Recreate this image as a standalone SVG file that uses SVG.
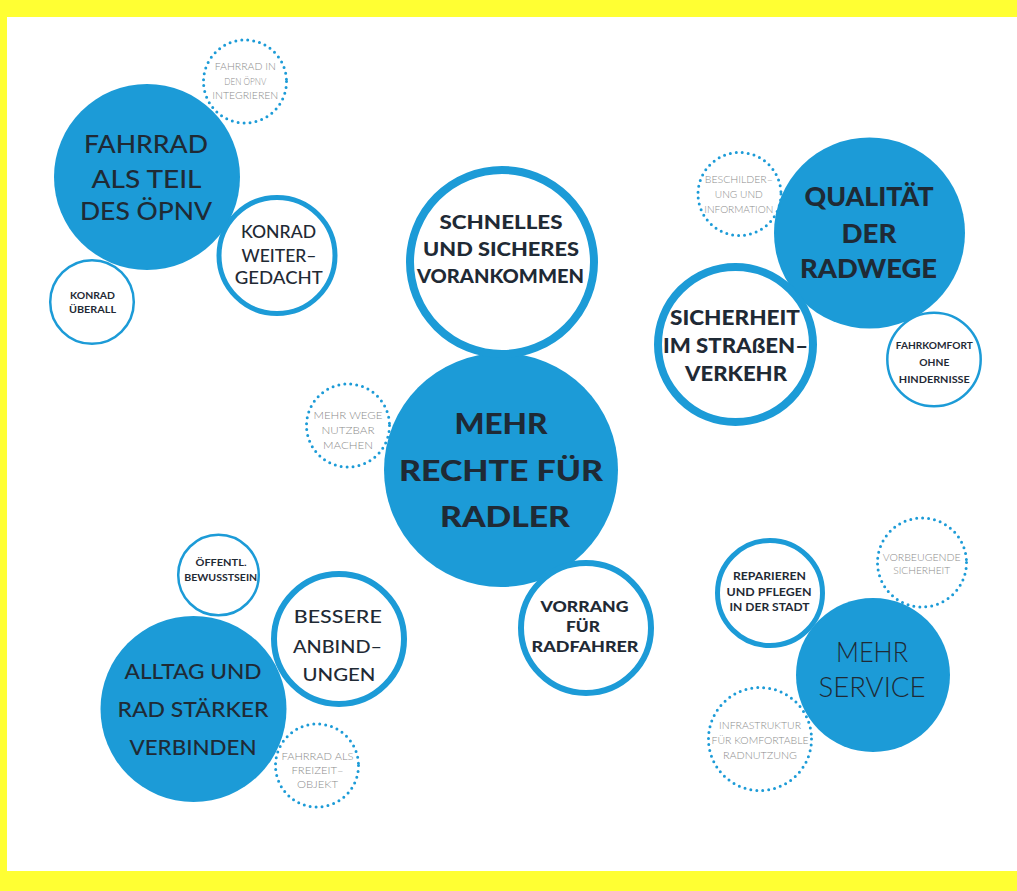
<svg xmlns="http://www.w3.org/2000/svg" width="1017" height="891" viewBox="0 0 1017 891">
<style>
.fill{fill:#1c9bd7}
.ring{fill:#fff;stroke:#1c9bd7}
.dot{fill:none;stroke:#1c9bd7;stroke-width:3;stroke-linecap:round;stroke-dasharray:0 6}
text{font-family:Lato,"Liberation Sans",sans-serif;text-anchor:middle;fill:#1f2a35}
.h{font-weight:900}
.m{font-weight:500}
.s{font-weight:700}
.l{font-weight:300}
.g{font-weight:300;fill:#8c8c8c}
</style>
<rect x="0" y="0" width="1017" height="891" fill="#ffff33"/>
<rect x="7" y="17" width="1010" height="854" fill="#fff"/>

<g id="fahrrad-oepnv">
<circle class="fill" cx="147" cy="177" r="93"/>
<text class="m" font-size="25"><tspan x="146" y="153" textLength="124" lengthAdjust="spacingAndGlyphs">FAHRRAD</tspan><tspan x="146.5" y="188" textLength="110" lengthAdjust="spacingAndGlyphs">ALS TEIL</tspan><tspan x="146" y="220" textLength="132" lengthAdjust="spacingAndGlyphs">DES ÖPNV</tspan></text>
</g>
<g id="oepnv-integrieren">
<circle class="dot" cx="245" cy="81.5" r="41.5"/>
<text class="g" font-size="9.5"><tspan x="245.3" y="70" textLength="61" lengthAdjust="spacingAndGlyphs">FAHRRAD IN</tspan><tspan x="245.3" y="85" textLength="42" lengthAdjust="spacingAndGlyphs">DEN ÖPNV</tspan><tspan x="245.3" y="99" textLength="66" lengthAdjust="spacingAndGlyphs">INTEGRIEREN</tspan></text>
</g>
<g id="konrad-weitergedacht">
<circle class="ring" stroke-width="5" cx="277" cy="255.5" r="58"/>
<text class="m" font-size="16.5"><tspan x="278.5" y="238" textLength="75" lengthAdjust="spacingAndGlyphs">KONRAD</tspan><tspan x="279" y="262" textLength="75" lengthAdjust="spacingAndGlyphs">WEITER–</tspan><tspan x="278.8" y="284" textLength="88" lengthAdjust="spacingAndGlyphs">GEDACHT</tspan></text>
</g>
<g id="konrad-ueberall">
<circle class="ring" stroke-width="2.5" cx="92" cy="302" r="41.8"/>
<text class="s" font-size="9.5"><tspan x="92.5" y="299" textLength="45" lengthAdjust="spacingAndGlyphs">KONRAD</tspan><tspan x="92.5" y="313" textLength="47" lengthAdjust="spacingAndGlyphs">ÜBERALL</tspan></text>
</g>

<g id="mehr-rechte">
<circle class="fill" cx="501" cy="470" r="117"/>
<text class="h" font-size="29"><tspan x="501" y="434" textLength="93" lengthAdjust="spacingAndGlyphs">MEHR</tspan><tspan x="501" y="481" textLength="204" lengthAdjust="spacingAndGlyphs">RECHTE FÜR</tspan><tspan x="505" y="527" textLength="130" lengthAdjust="spacingAndGlyphs">RADLER</tspan></text>
</g>
<g id="schnelles">
<circle class="ring" stroke-width="8" cx="502" cy="262" r="92"/>
<text class="h" font-size="19.5"><tspan x="501" y="229" textLength="123" lengthAdjust="spacingAndGlyphs">SCHNELLES</tspan><tspan x="501" y="256" textLength="156" lengthAdjust="spacingAndGlyphs">UND SICHERES</tspan><tspan x="500.5" y="283" textLength="167" lengthAdjust="spacingAndGlyphs">VORANKOMMEN</tspan></text>
</g>
<g id="vorrang">
<circle class="ring" stroke-width="6" cx="586" cy="628" r="65"/>
<text class="h" font-size="15.5"><tspan x="584.5" y="612" textLength="88" lengthAdjust="spacingAndGlyphs">VORRANG</tspan><tspan x="583" y="632" textLength="34" lengthAdjust="spacingAndGlyphs">FÜR</tspan><tspan x="585" y="652" textLength="107" lengthAdjust="spacingAndGlyphs">RADFAHRER</tspan></text>
</g>
<g id="mehr-wege">
<circle class="dot" cx="348" cy="425.5" r="41.5"/>
<text class="g" font-size="10.5"><tspan x="348" y="419" textLength="69" lengthAdjust="spacingAndGlyphs">MEHR WEGE</tspan><tspan x="348" y="434" textLength="53" lengthAdjust="spacingAndGlyphs">NUTZBAR</tspan><tspan x="348" y="449" textLength="50" lengthAdjust="spacingAndGlyphs">MACHEN</tspan></text>
</g>

<g id="qualitaet">
<circle class="fill" cx="869.5" cy="233" r="95.5"/>
<text class="h" font-size="26"><tspan x="869" y="206" textLength="129" lengthAdjust="spacingAndGlyphs">QUALITÄT</tspan><tspan x="869" y="243" textLength="55" lengthAdjust="spacingAndGlyphs">DER</tspan><tspan x="868.5" y="278" textLength="137" lengthAdjust="spacingAndGlyphs">RADWEGE</tspan></text>
</g>
<g id="sicherheit">
<circle class="ring" stroke-width="8" cx="735.5" cy="344.5" r="77.5"/>
<text class="h" font-size="21"><tspan x="735" y="325" textLength="130" lengthAdjust="spacingAndGlyphs">SICHERHEIT</tspan><tspan x="735.5" y="353" textLength="145" lengthAdjust="spacingAndGlyphs">IM STRAßEN–</tspan><tspan x="736" y="381" textLength="102" lengthAdjust="spacingAndGlyphs">VERKEHR</tspan></text>
</g>
<g id="beschilderung">
<circle class="dot" cx="739.5" cy="194" r="41.5"/>
<text class="g" font-size="9.5"><tspan x="738.8" y="183" textLength="68" lengthAdjust="spacingAndGlyphs">BESCHILDER–</tspan><tspan x="738.8" y="197.5" textLength="48" lengthAdjust="spacingAndGlyphs">UNG UND</tspan><tspan x="738.8" y="213" textLength="69" lengthAdjust="spacingAndGlyphs">INFORMATION</tspan></text>
</g>
<g id="fahrkomfort">
<circle class="ring" stroke-width="2.5" cx="934" cy="359.5" r="46.7"/>
<text class="s" font-size="9.5"><tspan x="934.3" y="349" textLength="77" lengthAdjust="spacingAndGlyphs">FAHRKOMFORT</tspan><tspan x="934.3" y="366" textLength="30" lengthAdjust="spacingAndGlyphs">OHNE</tspan><tspan x="934.3" y="383" textLength="71" lengthAdjust="spacingAndGlyphs">HINDERNISSE</tspan></text>
</g>

<g id="alltag">
<circle class="fill" cx="193.5" cy="709" r="93"/>
<text class="m" font-size="22"><tspan x="193" y="679" textLength="137" lengthAdjust="spacingAndGlyphs">ALLTAG UND</tspan><tspan x="193" y="717" textLength="151" lengthAdjust="spacingAndGlyphs">RAD STÄRKER</tspan><tspan x="193" y="755" textLength="127" lengthAdjust="spacingAndGlyphs">VERBINDEN</tspan></text>
</g>
<g id="bessere-anbindungen">
<circle class="ring" stroke-width="6" cx="339" cy="639" r="65"/>
<text class="m" font-size="18"><tspan x="337.8" y="623" textLength="88" lengthAdjust="spacingAndGlyphs">BESSERE</tspan><tspan x="337.5" y="653" textLength="89" lengthAdjust="spacingAndGlyphs">ANBIND–</tspan><tspan x="339" y="681" textLength="73" lengthAdjust="spacingAndGlyphs">UNGEN</tspan></text>
</g>
<g id="bewusstsein">
<circle class="ring" stroke-width="2.5" cx="218.5" cy="575" r="40.3"/>
<text class="s" font-size="9.5"><tspan x="221" y="566" textLength="51" lengthAdjust="spacingAndGlyphs">ÖFFENTL.</tspan><tspan x="220.7" y="581" textLength="73" lengthAdjust="spacingAndGlyphs">BEWUSSTSEIN</tspan></text>
</g>
<g id="freizeitobjekt">
<circle class="dot" cx="317" cy="765.5" r="41.5"/>
<text class="g" font-size="9.5"><tspan x="317.5" y="760" textLength="72" lengthAdjust="spacingAndGlyphs">FAHRRAD ALS</tspan><tspan x="317.5" y="774" textLength="52" lengthAdjust="spacingAndGlyphs">FREIZEIT–</tspan><tspan x="317.5" y="788" textLength="41" lengthAdjust="spacingAndGlyphs">OBJEKT</tspan></text>
</g>

<g id="mehr-service">
<circle class="fill" cx="873" cy="675" r="77"/>
<text class="l" font-size="28"><tspan x="872" y="662" textLength="72" lengthAdjust="spacingAndGlyphs">MEHR</tspan><tspan x="872" y="697" textLength="107" lengthAdjust="spacingAndGlyphs">SERVICE</tspan></text>
</g>
<g id="reparieren">
<circle class="ring" stroke-width="5" cx="770" cy="593" r="52.5"/>
<text class="s" font-size="12"><tspan x="769.5" y="580" textLength="73" lengthAdjust="spacingAndGlyphs">REPARIEREN</tspan><tspan x="769" y="595.5" textLength="85" lengthAdjust="spacingAndGlyphs">UND PFLEGEN</tspan><tspan x="769.5" y="611" textLength="80" lengthAdjust="spacingAndGlyphs">IN DER STADT</tspan></text>
</g>
<g id="vorbeugende-sicherheit">
<circle class="dot" cx="922" cy="562.5" r="44.5"/>
<text class="g" font-size="9.5"><tspan x="921.7" y="561" textLength="78" lengthAdjust="spacingAndGlyphs">VORBEUGENDE</tspan><tspan x="921.7" y="574" textLength="57" lengthAdjust="spacingAndGlyphs">SICHERHEIT</tspan></text>
</g>
<g id="infrastruktur">
<circle class="dot" cx="760" cy="739" r="51.5"/>
<text class="g" font-size="9.5"><tspan x="760" y="729" textLength="82" lengthAdjust="spacingAndGlyphs">INFRASTRUKTUR</tspan><tspan x="760" y="744" textLength="97" lengthAdjust="spacingAndGlyphs">FÜR KOMFORTABLE</tspan><tspan x="760" y="759" textLength="74" lengthAdjust="spacingAndGlyphs">RADNUTZUNG</tspan></text>
</g>
</svg>
